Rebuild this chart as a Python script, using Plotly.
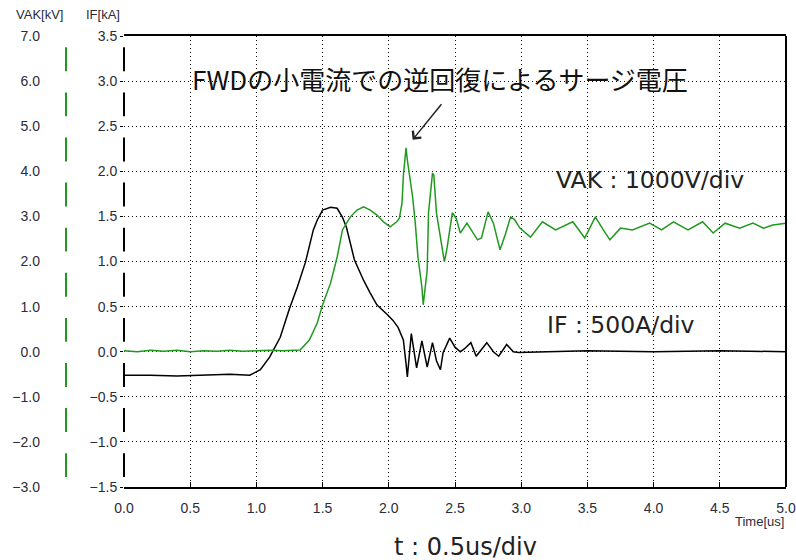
import plotly.graph_objects as go

# ---- data ----
t_vak = [0.00, 0.10, 0.20, 0.30, 0.40, 0.50, 0.60, 0.70, 0.80, 0.90, 1.00, 1.10, 1.20, 1.30, 1.33,
         1.40, 1.46, 1.50, 1.56, 1.61, 1.65, 1.71, 1.76, 1.81, 1.86, 1.91, 1.96, 2.01, 2.06, 2.08,
         2.10, 2.11, 2.13, 2.14, 2.18, 2.20, 2.22, 2.25, 2.26, 2.29, 2.30, 2.33, 2.34, 2.36, 2.40,
         2.42, 2.44, 2.48, 2.51, 2.54, 2.59, 2.64, 2.67, 2.70, 2.75, 2.79, 2.84, 2.88, 2.92, 2.95,
         2.99, 3.07, 3.16, 3.26, 3.39, 3.48, 3.56, 3.62, 3.67, 3.75, 3.84, 3.97, 4.06, 4.15, 4.26,
         4.37, 4.45, 4.54, 4.65, 4.75, 4.83, 4.90, 5.00]
vak_kv = [0.02, 0.00, 0.03, 0.01, 0.03, 0.00, 0.02, 0.01, 0.03, 0.01, 0.02, 0.03, 0.02, 0.03, 0.04,
          0.26, 0.64, 1.04, 1.52, 2.10, 2.70, 2.99, 3.14, 3.21, 3.14, 3.03, 2.88, 2.77, 2.88, 2.96,
          3.30, 3.90, 4.52, 4.25, 3.43, 2.85, 2.10, 1.43, 1.04, 1.81, 3.08, 3.96, 3.92, 3.08, 2.41,
          1.99, 2.30, 3.08, 2.95, 2.63, 2.85, 2.63, 2.48, 2.52, 3.10, 2.85, 2.26, 2.60, 2.99, 2.93,
          2.74, 2.54, 2.88, 2.70, 2.88, 2.52, 2.99, 2.70, 2.48, 2.74, 2.70, 2.85, 2.70, 2.88, 2.70,
          2.88, 2.63, 2.85, 2.74, 2.85, 2.74, 2.81, 2.85]

t_if = [0.00, 0.20, 0.40, 0.60, 0.80, 0.95, 1.03, 1.10, 1.18, 1.25, 1.31, 1.37, 1.43, 1.46, 1.50,
        1.56, 1.61, 1.65, 1.68, 1.74, 1.81, 1.86, 1.91, 1.99, 2.03, 2.07, 2.11, 2.13, 2.14, 2.17,
        2.21, 2.25, 2.29, 2.33, 2.36, 2.39, 2.41, 2.46, 2.50, 2.54, 2.57, 2.62, 2.66, 2.74, 2.79,
        2.83, 2.89, 2.94, 2.98, 3.20, 3.50, 4.00, 4.50, 5.00]
if_ka = [-0.26, -0.26, -0.27, -0.26, -0.25, -0.26, -0.20, -0.06, 0.16, 0.48, 0.72, 0.99, 1.35, 1.46, 1.57,
         1.60, 1.59, 1.49, 1.38, 1.02, 0.79, 0.65, 0.52, 0.41, 0.35, 0.27, 0.13, -0.13, -0.28, 0.20,
         -0.18, 0.12, -0.17, 0.10, -0.10, -0.20, -0.01, 0.15, 0.05, 0.00, 0.03, 0.10, -0.05, 0.10, 0.00,
         -0.05, 0.08, 0.00, -0.01, 0.00, 0.01, 0.00, 0.01, 0.00]

x_ticks = [0.0, 0.5, 1.0, 1.5, 2.0, 2.5, 3.0, 3.5, 4.0, 4.5, 5.0]
if_ticks = [-1.5, -1.0, -0.5, 0.0, 0.5, 1.0, 1.5, 2.0, 2.5, 3.0, 3.5]
vak_ticks = [-3.0, -2.0, -1.0, 0.0, 1.0, 2.0, 3.0, 4.0, 5.0, 6.0, 7.0]

title_text = "FWDの小電流での逆回復によるサージ電圧"
vak_label = "VAK : 1000V/div"
if_label = "IF : 500A/div"
t_label = "t : 0.5us/div"

# ---- styling ----
W, H = 796, 560
ML, MR, MT, MB = 0, 10, 36, 73
PW = W - ML - MR
X0 = 124  # left edge of plot area in px
GREEN = "#1f9a1f"
TICKC = "#2b2b3b"
SMALL = "Liberation Sans, Arial, sans-serif"
tickfont = dict(family=SMALL, size=14, color=TICKC)
GRID_DASH = "1px,3px"

fig = go.Figure()
fig.add_trace(go.Scatter(x=t_if, y=if_ka, mode="lines", yaxis="y",
                         line=dict(color="black", width=1.5), hoverinfo="skip"))
fig.add_trace(go.Scatter(x=t_vak, y=vak_kv, mode="lines", yaxis="y2",
                         line=dict(color=GREEN, width=1.5), hoverinfo="skip"))

fig.update_layout(
    width=W, height=H,
    margin=dict(l=ML, r=MR, t=MT, b=MB, autoexpand=False),
    plot_bgcolor="white", paper_bgcolor="white",
    showlegend=False,
    xaxis=dict(domain=[X0 / PW, 1], range=[0, 5], tickvals=x_ticks,
               ticktext=[f"{v:.1f}" for v in x_ticks], automargin=False,
               showgrid=True, gridcolor="#111", griddash=GRID_DASH, gridwidth=1,
               showline=True, linecolor="black", linewidth=2, mirror=True,
               ticks="inside", ticklen=5, tickcolor="black", tickwidth=1,
               ticklabelstandoff=7,
               zeroline=False, tickfont=tickfont),
    yaxis=dict(range=[-1.5, 3.5], tickvals=if_ticks, automargin=False,
               ticktext=[f"{v:.1f}".replace("-", "\u2212") for v in if_ticks],
               showgrid=True, gridcolor="#111", griddash=GRID_DASH, gridwidth=1,
               ticks="outside", ticklen=3, tickcolor="black",
               showline=False, zeroline=False, tickfont=tickfont, anchor="x"),
    yaxis2=dict(range=[-3, 7], tickvals=vak_ticks, automargin=False,
                ticktext=[f"{v:.1f}".replace("-", "\u2212") for v in vak_ticks],
                overlaying="y", anchor="free", position=40 / PW, side="left",
                showgrid=False, ticks="", showline=False, zeroline=False,
                tickfont=tickfont),
)

shapes = [dict(type="line", xref="x domain", yref="y domain", x0=1, x1=1, y0=0, y1=1,
               line=dict(color="black", width=2))]
for a, b in zip(if_ticks[:-1], if_ticks[1:]):
    shapes.append(dict(type="line", xref="paper", yref="y", x0=X0 / PW, x1=X0 / PW,
                       y0=a + 0.22 * (b - a), y1=a + 0.75 * (b - a),
                       line=dict(color="black", width=2)))
for a, b in zip(vak_ticks[:-1], vak_ticks[1:]):
    shapes.append(dict(type="line", xref="paper", yref="y2", x0=66 / PW, x1=66 / PW,
                       y0=a + 0.22 * (b - a), y1=a + 0.75 * (b - a),
                       line=dict(color=GREEN, width=2)))
fig.update_layout(shapes=shapes)

ph = H - MT - MB
def py(px):
    return (H - MB - px) / ph

C = dict(xanchor="center", yanchor="middle", showarrow=False)
ann = [
    dict(text=title_text, x=2.39, y=3.03, xref="x", yref="y", **C,
         font=dict(family="Noto Sans CJK JP", size=26, color="#111")),
    dict(text="", x=2.18, y=2.35, xref="x", yref="y", showarrow=True,
         ax=30, ay=-37, arrowhead=4, arrowsize=1.4, arrowwidth=1.5, arrowcolor="#222"),
    dict(text=vak_label, x=3.97, y=1.90, xref="x", yref="y", **C,
         font=dict(family="DejaVu Sans", size=23.5, color="#222")),
    dict(text=if_label, x=3.75, y=0.30, xref="x", yref="y", **C,
         font=dict(family="DejaVu Sans", size=23.5, color="#222")),
    dict(text=t_label, x=465 / PW, y=py(547), xref="paper", yref="paper", **C,
         font=dict(family="DejaVu Sans", size=24, color="#222")),
    dict(text="Time[us]", x=786 / PW, y=py(521), xref="paper", yref="paper",
         xanchor="right", yanchor="middle", showarrow=False,
         font=dict(family=SMALL, size=13, color=TICKC)),
    dict(text="VAK[kV]", x=39 / PW, y=py(15), xref="paper", yref="paper", **C,
         font=dict(family=SMALL, size=13, color=TICKC)),
    dict(text="IF[kA]", x=103 / PW, y=py(15), xref="paper", yref="paper", **C,
         font=dict(family=SMALL, size=13, color=TICKC)),
]
fig.update_layout(annotations=ann)

fig.write_html("out.html", config={"displayModeBar": False},
               post_script="document.body.style.margin='0px';")
